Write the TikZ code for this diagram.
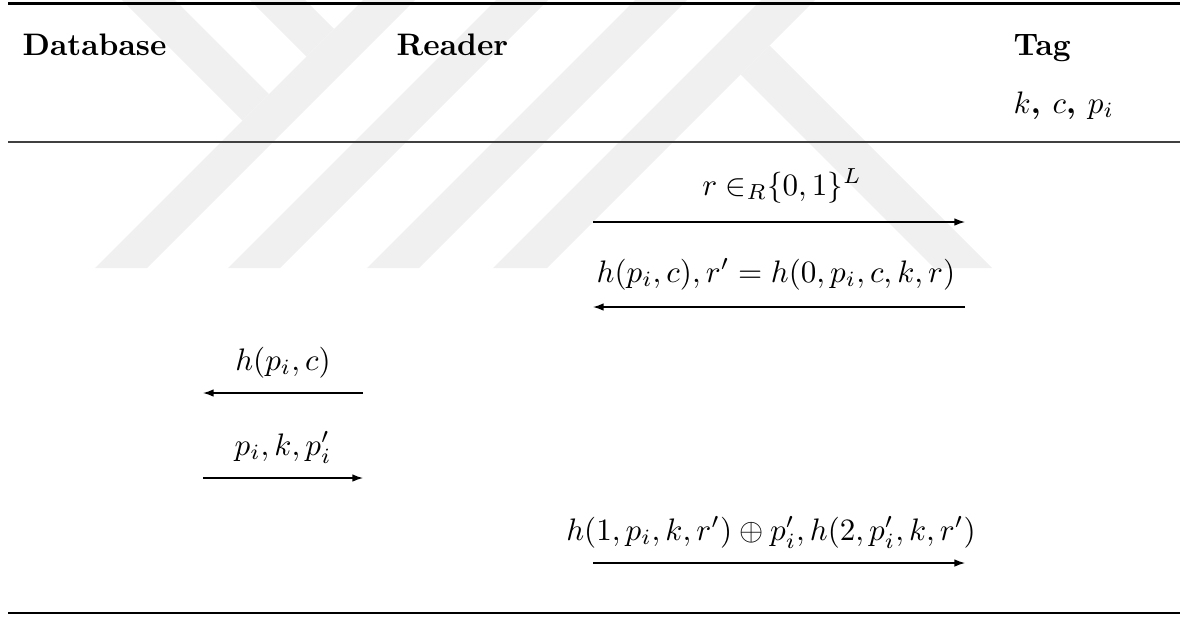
\documentclass[tikz,border=0pt]{standalone}
\usetikzlibrary{arrows.meta}

\begin{document}
\begin{tikzpicture}[
  x=0.0113cm, y=-0.0113cm,
  head/.style={font=\bfseries, anchor=base west, inner sep=0pt},
  lbl/.style={anchor=base, inner sep=0pt},
  msg/.style={-{Latex[length=3.4pt,width=2.4pt]}, line width=0.4pt},
  wmark/.style={fill=black!6, draw=none}
]
\useasboundingbox (0,0) rectangle (1190,617);

% faint logo behind the table
\fill[wmark] (95,268) -- (147,268) -- (415,0) -- (363,0) -- cycle;
\fill[wmark] (228,268) -- (280,268) -- (548,0) -- (496,0) -- cycle;
\fill[wmark] (367,268) -- (419,268) -- (687,0) -- (635,0) -- cycle;
\fill[wmark] (493,268) -- (547,268) -- (815,0) -- (761,0) -- cycle;
\fill[wmark] (122,0) -- (175,0) -- (269,94) -- (242.5,120.5) -- cycle;
\fill[wmark] (250,0) -- (305,0) -- (334,29) -- (306.5,56.5) -- cycle;
\fill[wmark] (769.5,45.5) -- (992,268) -- (934,268) -- (740.5,74.5) -- cycle;

% rules
\draw[line width=0.9pt] (8,3.5) -- (1180,3.5);
\draw[line width=0.5pt, black!75] (8,142) -- (1180,142);
\draw[line width=0.9pt] (8,613) -- (1180,613);

% parties
\node[head] (db) at (22,55) {Database};
\node[head] (reader) at (396,55) {Reader};
\node[head] (tag) at (1013,55) {Tag};
\node[head] (secrets) at (1013,113) {$k$, $c$, $p_i$};

% messages
\node[lbl] (m1) at (782,195) {$r \in_R \mkern-5mu \{0,1\}^L$};
\node[lbl] (m2) at (776,282) {$h(p_i,c), r' = h(0,p_i,c,k,r)$};
\node[lbl] (m3) at (283,370) {$h(p_i,c)$};
\node[lbl] (m4) at (283,455) {$p_i,k,p_i'$};
\node[lbl] (m5) at (771,540) {$h(1,p_i,k,r') \oplus p_i', h(2,p_i',k,r')$};

\coordinate (r1) at (593,222); \coordinate (t1) at (965,222);
\coordinate (r2) at (593,307); \coordinate (t2) at (965,307);
\coordinate (d3) at (203,393); \coordinate (r3) at (363,393);
\coordinate (d4) at (203,478); \coordinate (r4) at (363,478);
\coordinate (r5) at (593,563); \coordinate (t5) at (965,563);

\draw[msg] (r1) -- (t1);
\draw[msg] (t2) -- (r2);
\draw[msg] (r3) -- (d3);
\draw[msg] (d4) -- (r4);
\draw[msg] (r5) -- (t5);
\end{tikzpicture}
\end{document}
